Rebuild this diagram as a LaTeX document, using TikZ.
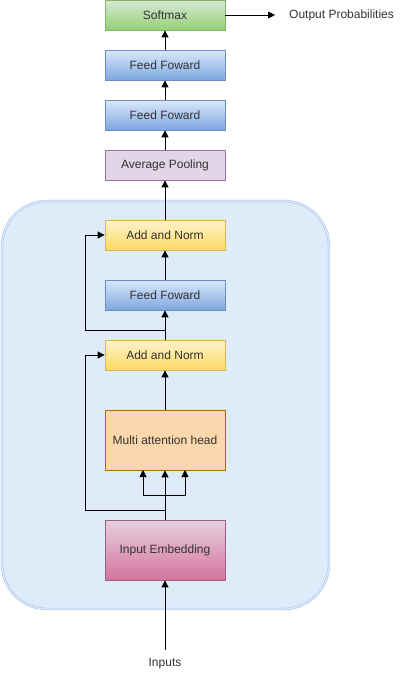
\documentclass[tikz,border=0pt]{standalone}
\usepackage{fontspec}
\setmainfont{Liberation Sans}
\usetikzlibrary{arrows.meta}
\definecolor{smtop}{HTML}{D5E8D4}\definecolor{smbot}{HTML}{97D077}\definecolor{smdraw}{HTML}{82B366}
\definecolor{fftop}{HTML}{DAE8FC}\definecolor{ffbot}{HTML}{7EA6E0}\definecolor{ffdraw}{HTML}{6C8EBF}
\definecolor{apfill}{HTML}{E1D5E7}\definecolor{apdraw}{HTML}{9673A6}
\definecolor{antop}{HTML}{FFF2CC}\definecolor{anbot}{HTML}{FFD966}\definecolor{andraw}{HTML}{D6B656}
\definecolor{mafill}{HTML}{FAD7AC}\definecolor{madraw}{HTML}{B46504}
\definecolor{ietop}{HTML}{E6D0DE}\definecolor{iebot}{HTML}{D5739D}\definecolor{iedraw}{HTML}{996185}
\definecolor{cfill}{HTML}{E0EBF9}\definecolor{cdraw}{HTML}{A9C4EB}
\definecolor{txt}{HTML}{333333}
\tikzset{
  x=1pt,y=-1pt,
  box/.style={minimum width=120pt,minimum height=30pt,inner sep=0pt,font=\fontsize{12}{14}\selectfont,text=txt,line width=0.8pt},
  smbox/.style={box,draw=smdraw,top color=smtop,bottom color=smbot},
  ffbox/.style={box,draw=ffdraw,top color=fftop,bottom color=ffbot},
  apbox/.style={box,draw=apdraw,fill=apfill},
  anbox/.style={box,draw=andraw,top color=antop,bottom color=anbot},
  mabox/.style={box,draw=madraw,fill=mafill,minimum height=60pt},
  iebox/.style={box,draw=iedraw,top color=ietop,bottom color=iebot,minimum height=60pt},
  lbl/.style={font=\fontsize{12}{14}\selectfont,text=txt,inner sep=0pt},
  arr/.style={-{Triangle[length=7pt,width=7pt]},line width=0.9pt},
  ln/.style={line width=0.8pt}
}
\begin{document}
\begin{tikzpicture}
\useasboundingbox (0,0) rectangle (406,681);
\draw[double=cfill,double distance=1.2pt,draw=cdraw,fill=cfill,rounded corners=45pt,line width=0.6pt] (2,201) rectangle (329,609);
\node[smbox] (sm) at (165,15) {Softmax};
\node[ffbox] (ff1) at (165,65) {Feed Foward};
\node[ffbox] (ff2) at (165,115) {Feed Foward};
\node[apbox] (ap) at (165,165) {Average Pooling};
\node[anbox] (an2) at (165,235) {Add and Norm};
\node[ffbox] (ff3) at (165,295) {Feed Foward};
\node[anbox] (an1) at (165,355) {Add and Norm};
\node[mabox] (ma) at (165,440) {Multi attention head};
\node[iebox] (ie) at (165,550) {Input Embedding};
\node[lbl,anchor=west] (out) at (289,15) {Output Probabilities};
\node[lbl] (in) at (165,664) {Inputs};
\coordinate (outend) at (275,15);
\coordinate (inst) at (165,650);
\draw[arr] (sm.east) -- (outend);
\draw[arr] (ff1) -- (sm);
\draw[arr] (ff2) -- (ff1);
\draw[arr] (ap) -- (ff2);
\draw[arr] (an2) -- (ap);
\draw[arr] (ff3) -- (an2);
\draw[arr] (an1) -- (ff3);
\draw[arr] (ma) -- (an1);
\draw[arr] (ie) -- (ma);
\draw[arr] (inst) -- (ie);
\coordinate (s1) at (165,330);
\draw[arr] (s1) -| (85,235) -- (an2.west);
\coordinate (s2) at (165,510);
\draw[arr] (s2) -| (85,355) -- (an1.west);
\coordinate (b) at (165,495);
\draw[arr] (b) -| (143,470);
\draw[arr] (b) -| (185,470);
\end{tikzpicture}
\end{document}
